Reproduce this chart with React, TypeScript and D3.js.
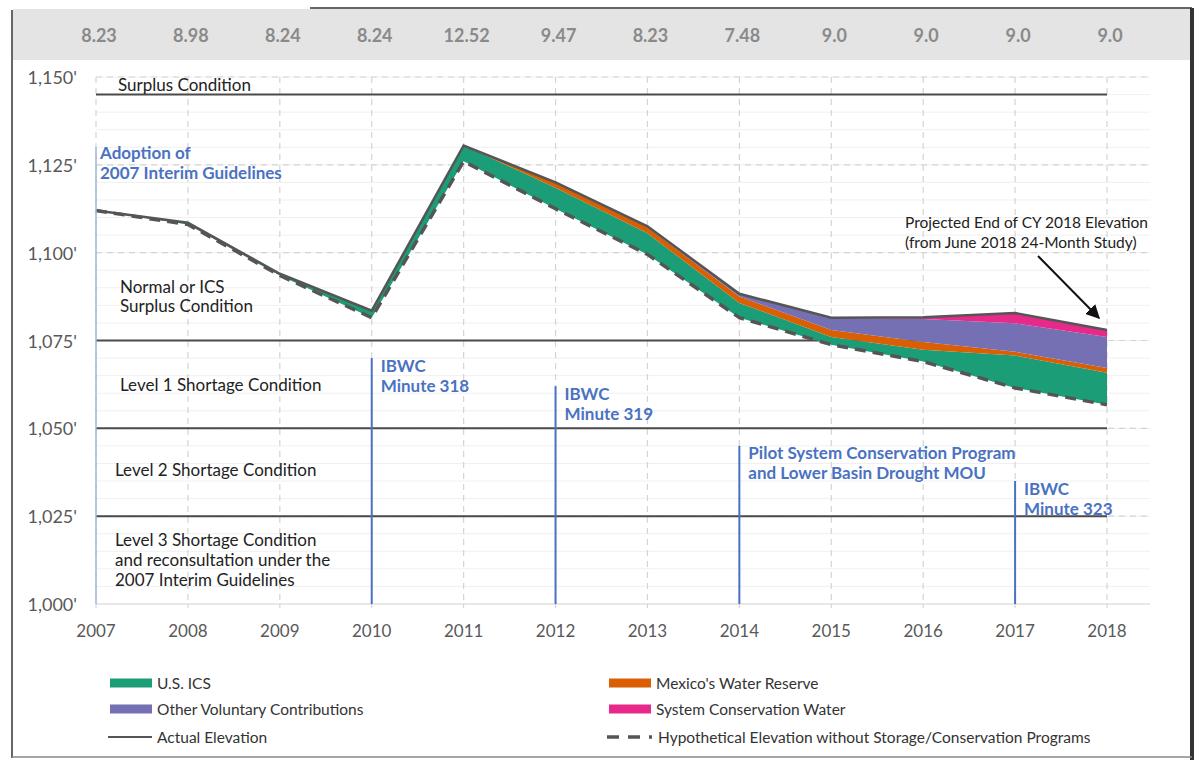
import * as d3 from 'd3'
import React from 'react'

// Lake Mead end-of-year elevations, 2007-2018
const years = [2007, 2008, 2009, 2010, 2011, 2012, 2013, 2014, 2015, 2016, 2017, 2018]
const releases = ['8.23', '8.98', '8.24', '8.24', '12.52', '9.47', '8.23', '7.48', '9.0', '9.0', '9.0', '9.0']

// elevation without storage / conservation programs (ft)
const hypothetical = [1112, 1108, 1093.5, 1081.5, 1126, 1112.5, 1099.5, 1081.5, 1073.8, 1069, 1061.5, 1056.7]
// feet of elevation held up by each program
const usIcs = [0, 0.5, 0.5, 2, 4.5, 6, 6, 4.2, 2.2, 3.4, 9.2, 9.1]
const mexicoReserve = [0, 0, 0, 0, 0, 1.5, 1.7, 1.8, 2, 2.2, 1.1, 1.4]
const otherVoluntary = [0, 0, 0, 0, 0, 0, 0.3, 0.8, 3.5, 6.5, 8.1, 8.8]
const systemConservation = [0, 0, 0, 0, 0, 0, 0, 0, 0, 0.5, 2.9, 2]

const yTicks = [1000, 1025, 1050, 1075, 1100, 1125, 1150]
const conditionLevels = [1145, 1075, 1050, 1025]

const layers = [
  { key: 'ics', label: 'U.S. ICS', values: usIcs, color: '#1b9e77' },
  { key: 'mex', label: "Mexico's Water Reserve", values: mexicoReserve, color: '#d95f02' },
  { key: 'other', label: 'Other Voluntary Contributions', values: otherVoluntary, color: '#7570b3' },
  { key: 'scw', label: 'System Conservation Water', values: systemConservation, color: '#e7298a' },
]

const events = [
  { year: 2010, top: 1070, lines: ['IBWC', 'Minute 318'] },
  { year: 2012, top: 1062, lines: ['IBWC', 'Minute 319'] },
  { year: 2014, top: 1045, lines: ['Pilot System Conservation Program', 'and Lower Basin Drought MOU'] },
  { year: 2017, top: 1035, lines: ['IBWC', 'Minute 323'] },
]

const FONT = 'Lato, "Open Sans", sans-serif'
const BLUE = '#4a72c2'
const DARK = '#4a4a4a'

export default function App() {
  const width = 1200
  const height = 760

  const x = d3.scalePoint<number>().domain(years).range([96, 1107])
  const y = d3.scaleLinear().domain([1000, 1150]).range([604, 77])
  const fmt = d3.format(',')

  const rows = years.map((yr, i) => {
    const row: Record<string, number> = { year: yr, base: hypothetical[i] }
    layers.forEach((l) => (row[l.key] = l.values[i]))
    return row
  })
  const stacked = d3.stack<Record<string, number>>().keys(['base', ...layers.map((l) => l.key)])(rows)

  const area = d3
    .area<d3.SeriesPoint<Record<string, number>>>()
    .x((d) => x(d.data.year)!)
    .y0((d) => y(d[0]))
    .y1((d) => y(d[1]))

  const line = d3
    .line<[number, number]>()
    .x((d) => x(d[0])!)
    .y((d) => y(d[1]))

  const top = stacked[stacked.length - 1]
  const actual: [number, number][] = top.map((d) => [d.data.year, d[1]])
  const hypo: [number, number][] = years.map((yr, i) => [yr, hypothetical[i]])

  const x0 = x(2007)!
  const x1 = x(2018)!
  const gridRight = 1150
  const minor = d3.range(1000, 1151, 5)

  return (
    <svg
      width={width}
      height={height}
      style={{ position: 'absolute', left: 0, top: 0, background: '#fff' }}
      fontFamily={FONT}
    >
      <defs>
        <marker id='arrow' viewBox='0 0 10 10' refX='9' refY='5' markerWidth='7' markerHeight='7' orient='auto'>
          <path d='M0,0 L10,5 L0,10 z' fill='#111' />
        </marker>
      </defs>

      {/* frame and header strip */}
      <rect x={13} y={9} width={1177} height={51} fill='#e4e4e4' />
      <line x1={310} x2={1192} y1={8} y2={8} stroke='#333' strokeWidth={1.5} />
      <line x1={12} x2={12} y1={10} y2={758} stroke='#666' strokeWidth={2} />
      <line x1={1192} x2={1192} y1={8} y2={760} stroke='#333' strokeWidth={4} />
      <line x1={12} x2={1192} y1={757} y2={757} stroke='#888' strokeWidth={1.5} />
      {releases.map((r, i) => (
        <text
          key={`rel-${i}`}
          x={x(years[i])! + 3}
          y={35}
          textAnchor='middle'
          dominantBaseline='central'
          fontSize={18}
          fontWeight={700}
          fill='#8a8a8a'
        >
          {r}
        </text>
      ))}

      {/* gridlines */}
      {minor.map((v) => (
        <line key={`mn-${v}`} x1={x0} x2={gridRight} y1={y(v)} y2={y(v)} stroke='#f0f0f0' strokeWidth={1} />
      ))}
      {yTicks
        .filter((v) => v > 1000)
        .map((v) => (
          <line
            key={`mj-${v}`}
            x1={x0}
            x2={gridRight}
            y1={y(v)}
            y2={y(v)}
            stroke='#d4d4d4'
            strokeWidth={1.2}
            strokeDasharray='6,5'
          />
        ))}
      {years.map((yr) => (
        <line
          key={`vg-${yr}`}
          x1={x(yr)}
          x2={x(yr)}
          y1={y(1150)}
          y2={y(1000)}
          stroke='#d4d4d4'
          strokeWidth={1.2}
          strokeDasharray='6,5'
        />
      ))}
      <line x1={x0} x2={gridRight} y1={y(1000)} y2={y(1000)} stroke='#d9d9d9' strokeWidth={1} />

      {/* condition thresholds */}
      {conditionLevels.map((v) => (
        <line key={`cl-${v}`} x1={x0} x2={x1} y1={y(v)} y2={y(v)} stroke={DARK} strokeWidth={2} />
      ))}

      {/* program storage layers */}
      {stacked.slice(1).map((s, i) => (
        <path key={`area-${i}`} d={area(s) || ''} fill={layers[i].color} />
      ))}
      <path d={line(hypo) || ''} fill='none' stroke='#555' strokeWidth={3.5} strokeDasharray='11,7' />
      <path d={line(actual) || ''} fill='none' stroke='#555' strokeWidth={2.5} />

      {/* event markers */}
      <line x1={x0} x2={x0} y1={y(1130)} y2={y(1000)} stroke='#9fb4dc' strokeWidth={1.5} />
      <text x={x0 + 4} y={152} fontSize={17} fontWeight={700} fill={BLUE} dominantBaseline='central'>
        Adoption of
      </text>
      <text x={x0 + 4} y={172} fontSize={17} fontWeight={700} fill={BLUE} dominantBaseline='central'>
        2007 Interim Guidelines
      </text>
      {events.map((e) => (
        <g key={`ev-${e.year}`}>
          <line x1={x(e.year)} x2={x(e.year)} y1={y(e.top)} y2={y(1000)} stroke={BLUE} strokeWidth={2} />
          {e.lines.map((t, j) => (
            <text
              key={j}
              x={x(e.year)! + 9}
              y={y(e.top) + 7 + j * 20}
              fontSize={17}
              fontWeight={700}
              fill={BLUE}
              dominantBaseline='central'
            >
              {t}
            </text>
          ))}
        </g>
      ))}

      {/* condition labels */}
      <g fontSize={17} fill='#222'>
        <text x={118} y={84} dominantBaseline='central'>Surplus Condition</text>
        <text x={120} y={286} dominantBaseline='central'>Normal or ICS</text>
        <text x={120} y={305} dominantBaseline='central'>Surplus Condition</text>
        <text x={120} y={384} dominantBaseline='central'>Level 1 Shortage Condition</text>
        <text x={115} y={469} dominantBaseline='central'>Level 2 Shortage Condition</text>
        <text x={115} y={539} dominantBaseline='central'>Level 3 Shortage Condition</text>
        <text x={115} y={559} dominantBaseline='central'>and reconsultation under the</text>
        <text x={115} y={579} dominantBaseline='central'>2007 Interim Guidelines</text>
      </g>

      {/* projection callout */}
      <text x={905} y={222} fontSize={15.5} fill='#222' dominantBaseline='central'>
        Projected End of CY 2018 Elevation
      </text>
      <text x={905} y={242} fontSize={15.5} fill='#222' dominantBaseline='central'>
        (from June 2018 24-Month Study)
      </text>
      <line x1={1038} y1={256} x2={1099} y2={318} stroke='#111' strokeWidth={2} markerEnd='url(#arrow)' />

      {/* axes */}
      {yTicks.map((v) => (
        <text key={`yt-${v}`} x={77} y={y(v)} textAnchor='end' dominantBaseline='central' fontSize={18} fill='#595959'>
          {fmt(v)}'
        </text>
      ))}
      {years.map((yr) => (
        <g key={`xt-${yr}`}>
          <line x1={x(yr)} x2={x(yr)} y1={y(1000)} y2={y(1000) + 4} stroke='#d0d0d0' />
          <text x={x(yr)} y={630} textAnchor='middle' dominantBaseline='central' fontSize={17} fill='#595959'>
            {yr}
          </text>
        </g>
      ))}

      {/* legend */}
      <g fontSize={15.5} fill='#333'>
        {[
          { l: layers[0], lx: 110, ly: 683 },
          { l: layers[2], lx: 110, ly: 709 },
          { l: layers[1], lx: 609, ly: 683 },
          { l: layers[3], lx: 609, ly: 709 },
        ].map(({ l, lx, ly }) => (
          <g key={`lg-${l.key}`}>
            <rect x={lx} y={ly - 4.5} width={42} height={9} fill={l.color} />
            <text x={lx + 47} y={ly} dominantBaseline='central'>
              {l.label}
            </text>
          </g>
        ))}
        <line x1={108} x2={152} y1={737} y2={737} stroke='#555' strokeWidth={2} />
        <text x={157} y={737} dominantBaseline='central'>Actual Elevation</text>
        <line x1={607} x2={652} y1={737} y2={737} stroke='#555' strokeWidth={3.5} strokeDasharray='12,9' />
        <text x={658} y={737} dominantBaseline='central'>Hypothetical Elevation without Storage/Conservation Programs</text>
      </g>
    </svg>
  )
}
